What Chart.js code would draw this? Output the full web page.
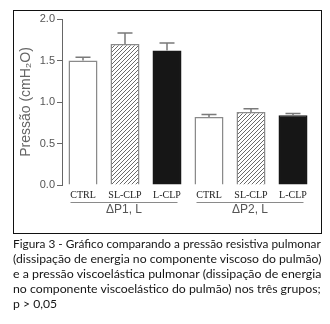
<!DOCTYPE html>
<html>
<head>
<meta charset="utf-8">
<script src="https://cdn.jsdelivr.net/npm/chart.js@4.4.1/dist/chart.umd.min.js"></script>
<style>
  body { margin: 0; background: #fff; }
  #wrap { position: relative; width: 330px; height: 324px; }
  #chart { position: absolute; left: 0; top: 0; }
  #frame {
    position: absolute; left: 13px; top: 10px; width: 309px; height: 224px;
    box-sizing: border-box; border: 1px solid #111;
  }
  #legenda {
    position: absolute; left: 13px; top: 236px; width: 308px;
    font: 12px/15px Lato, "Open Sans", sans-serif;
    color: #151515;
  }
  #legenda span {
    display: block; white-space: nowrap; width: max-content;
    transform-origin: 0 0;
  }
</style>
</head>
<body>
<div id="wrap">
  <canvas id="chart" width="330" height="236"></canvas>
  <div id="frame"></div>
  <div id="legenda">
    <span>Figura 3 - Gráfico comparando a pressão resistiva pulmonar</span>
    <span>(dissipação de energia no componente viscoso do pulmão)</span>
    <span>e a pressão viscoelástica pulmonar (dissipação de energia</span>
    <span>no componente viscoelástico do pulmão) nos três grupos;</span>
    <span>p &gt; 0,05</span>
  </div>
</div>
<script>
var categories = ['CTRL', 'SL-CLP', 'L-CLP', 'CTRL', 'SL-CLP', 'L-CLP'];
var groups = ['\u0394P1, L', '\u0394P2, L'];
var means = [1.50, 1.70, 1.62, 0.82, 0.88, 0.84];
var errors = [0.04, 0.13, 0.09, 0.03, 0.04, 0.02];
var yTicks = [0, 0.5, 1.0, 1.5, 2.0];

var groupSize = 3;
var sansFont = 'Liberation Sans, Arial, sans-serif';

// caption lines are set flush to both edges: squeeze/stretch each one to the box width
(function(){
    var lines = document.querySelectorAll('#legenda span');
    var boxW = 308, scales = [];
    for (var i = 0; i < lines.length - 1; i++){
        var s = boxW / lines[i].offsetWidth;
        scales.push(s);
        lines[i].style.transform = 'scaleX(' + s + ')';
    }
    var avg = scales.reduce(function(a, b){ return a + b; }, 0) / scales.length;
    lines[lines.length - 1].style.transform = 'scaleX(' + avg + ')';
})();

// diagonal hatch for the SL-CLP bars
function hatch(){
    var c = document.createElement('canvas');
    c.width = 4; c.height = 4;
    var g = c.getContext('2d');
    g.fillStyle = '#fff';
    g.fillRect(0, 0, 4, 4);
    g.strokeStyle = '#6a6a6a';
    g.lineWidth = 1;
    g.beginPath();
    g.moveTo(-1, 5); g.lineTo(5, -1);
    g.moveTo(-1, 1); g.lineTo(1, -1);
    g.moveTo(3, 5); g.lineTo(5, 3);
    g.stroke();
    return g.createPattern(c, 'repeat');
}
var hatchFill = hatch();

var fills = [], borders = [];
categories.forEach(function(cat, i){
    var k = i % groupSize;
    fills.push(k == 0 ? '#ffffff' : (k == 1 ? hatchFill : '#161616'));
    borders.push(k == 2 ? '#161616' : '#8a8a8a');
});

// upper error bars (SEM) drawn over each bar
var errorBars = {
    id: 'errorBars',
    afterDatasetsDraw: function(chart){
        var ctx = chart.ctx;
        var y = chart.scales.y;
        var meta = chart.getDatasetMeta(0);
        ctx.save();
        ctx.strokeStyle = '#7a7a7a';
        ctx.lineWidth = 1.5;
        meta.data.forEach(function(bar, i){
            var top = y.getPixelForValue(means[i] + errors[i]);
            ctx.beginPath();
            ctx.moveTo(bar.x, bar.y);
            ctx.lineTo(bar.x, top);
            ctx.moveTo(bar.x - 7.5, top);
            ctx.lineTo(bar.x + 7.5, top);
            ctx.stroke();
        });
        ctx.restore();
    }
};

// group rule + label under each set of three bars
var groupLabels = {
    id: 'groupLabels',
    afterDraw: function(chart){
        var ctx = chart.ctx;
        var meta = chart.getDatasetMeta(0);
        ctx.save();
        groups.forEach(function(name, g){
            var first = meta.data[g * groupSize];
            var last = meta.data[g * groupSize + groupSize - 1];
            var x0 = first.x - first.width / 2 + 2;
            var x1 = last.x + last.width / 2 - 4;
            ctx.strokeStyle = '#8a8a8a';
            ctx.lineWidth = 1;
            ctx.beginPath();
            ctx.moveTo(x0, 202.5);
            ctx.lineTo(x1, 202.5);
            ctx.stroke();
            ctx.fillStyle = '#555';
            ctx.font = '12px ' + sansFont;
            ctx.textAlign = 'center';
            ctx.textBaseline = 'middle';
            ctx.fillText(name, (x0 + x1) / 2, 210);
        });
        ctx.restore();
    }
};

var config = {
    type: 'bar',
    data: {
        labels: categories,
        datasets: [{
            data: means,
            backgroundColor: fills,
            borderColor: borders,
            borderWidth: 1.5,
            categoryPercentage: 1,
            barPercentage: 0.69
        }]
    },
    options: {
        responsive: false,
        devicePixelRatio: 1,
        animation: false,
        layout: { padding: { left: 14, right: 16, top: 19, bottom: 0 } },
        plugins: { legend: { display: false }, tooltip: { enabled: false } },
        scales: {
            x: {
                grid: { display: false, drawTicks: false },
                border: { display: false },
                ticks: {
                    autoSkip: false, maxRotation: 0, padding: 4,
                    color: '#222',
                    font: { family: 'Liberation Serif, serif', size: 10 }
                },
                afterFit: function(scale){ scale.height = 51; }
            },
            y: {
                min: 0, max: 2,
                afterBuildTicks: function(scale){
                    scale.ticks = yTicks.map(function(v){ return { value: v }; });
                },
                grid: { drawOnChartArea: false, drawTicks: true, tickLength: 5, color: '#666' },
                border: { display: true, color: '#666', width: 1 },
                ticks: {
                    padding: 2, color: '#555',
                    font: { family: sansFont, size: 11 },
                    callback: function(v){ return Number(v).toFixed(1); }
                },
                title: {
                    display: true, text: 'Pressão (cmH₂O)', color: '#666',
                    padding: { top: 4, bottom: 0 },
                    font: { family: sansFont, size: 14 }
                },
                afterFit: function(scale){ scale.width = 48; }
            }
        }
    },
    plugins: [errorBars, groupLabels]
};

new Chart(document.getElementById('chart'), config);
</script>
</body>
</html>
